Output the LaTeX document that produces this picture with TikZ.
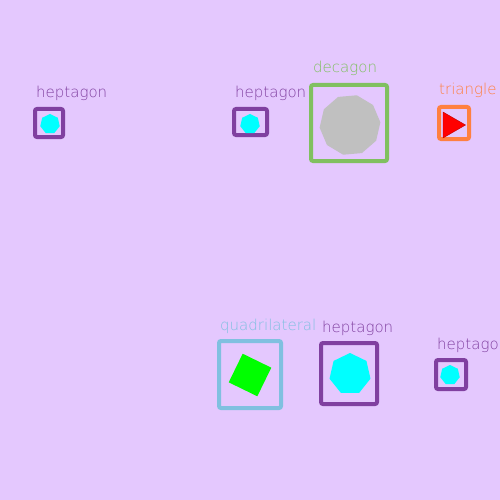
\documentclass[tikz,border=0pt]{standalone}
\usepackage{fontspec}
\setmainfont{DejaVu Sans ExtraLight}
\usetikzlibrary{shapes.geometric}
\definecolor{bgLilac}{RGB}{228,200,254}
\definecolor{hepPurple}{RGB}{128,64,160}
\definecolor{hepCyan}{RGB}{0,255,255}
\definecolor{decGreen}{RGB}{128,192,96}
\definecolor{decGray}{RGB}{192,192,192}
\definecolor{triOrange}{RGB}{255,128,64}
\definecolor{triRed}{RGB}{255,0,0}
\definecolor{quadBlue}{RGB}{128,192,224}
\definecolor{quadGreen}{RGB}{0,255,0}
\tikzset{
   frame/.style={draw=#1, line width=4pt, rounded corners=2pt, inner sep=0pt},
   poly/.style={regular polygon, regular polygon sides=#1, inner sep=0pt, draw=none},
   tag/.style={font=\fontsize{15}{17}\selectfont, anchor=base west, inner sep=0pt}
}
\begin{document}
\begin{tikzpicture}[x=1pt,y=-1pt]
%%%%%%%%%%%%%%%%%%

%Background
	\fill[bgLilac] (0,0) rectangle (500,500);
	\useasboundingbox (0,0) rectangle (500,500);

%Top row
	\node[frame=hepPurple, minimum width=28pt, minimum height=28pt] (hepA) at (49,123) {};
	\node[poly=7, fill=hepCyan, minimum size=20pt] (hepAin) at (50,124) {};
	\node[tag, text=hepPurple] (hepAtag) at ([xshift=3pt, yshift=9pt]hepA.north west) {heptagon};

	\node[frame=hepPurple, minimum width=33pt, minimum height=26pt] (hepB) at (250.5,122) {};
	\node[poly=7, fill=hepCyan, minimum size=20pt] (hepBin) at (250,124) {};
	\node[tag, text=hepPurple] (hepBtag) at ([xshift=3pt, yshift=9pt]hepB.north west) {heptagon};

	\node[frame=decGreen, minimum width=76pt, minimum height=76pt] (dec) at (349,123) {};
	\node[poly=10, fill=decGray, minimum size=61pt, shape border rotate=5] (decin) at (350,125) {};
	\node[tag, text=decGreen] (dectag) at ([xshift=4pt, yshift=10pt]dec.north west) {decagon};

	\node[frame=triOrange, minimum width=30pt, minimum height=32pt] (tri) at (454,123) {};
	\node[poly=3, fill=triRed, draw=triRed!75!black, minimum size=30pt, shape border rotate=-90] (triin) at (450.5,125) {};
	\node[tag, text=triOrange] (tritag) at ([xshift=2pt, yshift=10pt]tri.north west) {triangle};

%Bottom row
	\node[frame=quadBlue, minimum width=62pt, minimum height=67pt] (quad) at (250,374.5) {};
	\node[poly=4, fill=quadGreen, minimum size=45pt, shape border rotate=-26] (quadin) at (250,375) {};
	\node[tag, text=quadBlue] (quadtag) at ([xshift=3pt, yshift=9pt]quad.north west) {quadrilateral};

	\node[frame=hepPurple, minimum width=56pt, minimum height=61pt] (hepC) at (349,373.5) {};
	\node[poly=7, fill=hepCyan, minimum size=42pt] (hepCin) at (350,374) {};
	\node[tag, text=hepPurple] (hepCtag) at ([xshift=3pt, yshift=9pt]hepC.north west) {heptagon};

	\node[frame=hepPurple, minimum width=30pt, minimum height=29pt] (hepD) at (451,374.5) {};
	\node[poly=7, fill=hepCyan, minimum size=20pt] (hepDin) at (450,375) {};
	\node[tag, text=hepPurple] (hepDtag) at ([xshift=3pt, yshift=9pt]hepD.north west) {heptagon};

\end{tikzpicture}
\end{document}
